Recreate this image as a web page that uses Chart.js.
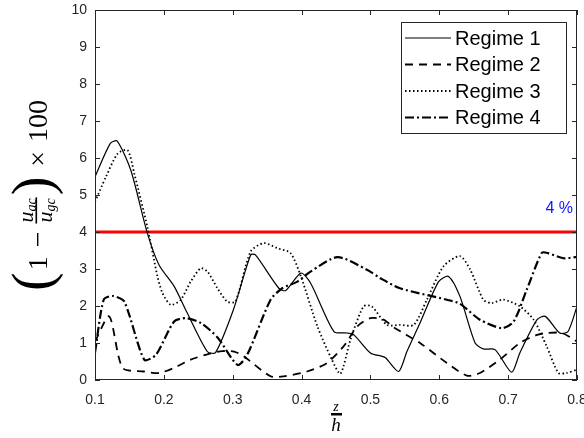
<!DOCTYPE html>
<html>
<head>
<meta charset="utf-8">
<script src="https://cdn.jsdelivr.net/npm/chart.js@4.4.1/dist/chart.umd.min.js"></script>
<style>
  body { margin: 0; background: #fff; }
  #wrap { width: 584px; height: 438px; }
</style>
</head>
<body>
<div id="wrap"><canvas id="chart" width="584" height="438"></canvas></div>
<script>
// values (x = z/h, y = percent)
const r1X = [0.1, 0.122, 0.132, 0.152, 0.176, 0.193, 0.215, 0.234, 0.263, 0.275, 0.301, 0.326, 0.333, 0.367, 0.377, 0.399, 0.413, 0.447, 0.466, 0.476, 0.5, 0.517, 0.522, 0.541, 0.553, 0.572, 0.599, 0.6135, 0.63, 0.652, 0.664, 0.681, 0.705, 0.717, 0.742, 0.754, 0.775, 0.787, 0.8];
const r1Y = [5.49, 6.39, 6.46, 5.67, 3.97, 3.11, 2.53, 1.81, 0.77, 0.74, 1.9, 3.38, 3.38, 2.48, 2.42, 2.89, 2.62, 1.31, 1.27, 1.22, 0.73, 0.64, 0.6, 0.23, 0.77, 1.54, 2.66, 2.8, 2.26, 1.0, 0.84, 0.82, 0.21, 0.73, 1.63, 1.72, 1.27, 1.31, 1.99];

const r2X = [0.1, 0.1207, 0.14, 0.171, 0.193, 0.215, 0.239, 0.268, 0.285, 0.302, 0.316, 0.355, 0.374, 0.408, 0.437, 0.461, 0.481, 0.5, 0.519, 0.534, 0.572, 0.611, 0.64, 0.659, 0.688, 0.717, 0.742, 0.756, 0.778, 0.8];
const r2Y = [1.04, 1.72, 0.33, 0.23, 0.19, 0.33, 0.55, 0.72, 0.78, 0.77, 0.64, 0.1, 0.1, 0.23, 0.46, 0.91, 1.45, 1.67, 1.63, 1.42, 1.0, 0.46, 0.12, 0.19, 0.55, 1.0, 1.22, 1.27, 1.27, 1.04];

const r3X = [0.1, 0.1159, 0.1329, 0.1474, 0.157, 0.176, 0.1907, 0.198, 0.2101, 0.2246, 0.239, 0.2536, 0.2633, 0.2778, 0.292, 0.304, 0.326, 0.345, 0.365, 0.384, 0.399, 0.423, 0.444, 0.4565, 0.471, 0.49, 0.502, 0.524, 0.543, 0.563, 0.582, 0.606, 0.63, 0.645, 0.664, 0.676, 0.693, 0.717, 0.737, 0.756, 0.773, 0.785, 0.8];
const r3Y = [4.82, 5.49, 6.12, 6.21, 5.58, 4.14, 2.8, 2.35, 2.03, 2.17, 2.66, 3.02, 2.93, 2.48, 2.12, 2.12, 3.47, 3.7, 3.56, 3.43, 2.8, 1.45, 0.55, 0.17, 1.09, 1.99, 1.99, 1.49, 1.49, 1.49, 2.17, 3.07, 3.35, 2.98, 2.17, 2.08, 2.17, 1.99, 1.63, 0.91, 0.19, 0.19, 0.28];

const r4X = [0.1, 0.1126, 0.1256, 0.1425, 0.1715, 0.1884, 0.2149, 0.2319, 0.2536, 0.278, 0.307, 0.321, 0.355, 0.372, 0.394, 0.413, 0.452, 0.495, 0.5145, 0.543, 0.611, 0.63, 0.659, 0.691, 0.708, 0.727, 0.749, 0.758, 0.78, 0.8];
const r4Y = [0.74, 2.17, 2.27, 2.12, 0.55, 0.68, 1.58, 1.67, 1.54, 1.15, 0.41, 0.68, 2.17, 2.48, 2.66, 2.93, 3.32, 2.98, 2.75, 2.48, 2.17, 2.06, 1.63, 1.4, 1.58, 2.44, 3.44, 3.43, 3.29, 3.33];

const seriesNames = ['Regime 1', 'Regime 2', 'Regime 3', 'Regime 4'];
const thresholdX = [0.1, 0.8];
const thresholdY = [4, 4];
const thresholdLabel = '4 %';
const xTicks = [0.1, 0.2, 0.3, 0.4, 0.5, 0.6, 0.7, 0.8];
const yTicks = [0, 1, 2, 3, 4, 5, 6, 7, 8, 9, 10];

function pts(xs, ys) {
    return xs.map((x, i) => ({ x: x, y: ys[i] }));
}

const lineStyles = [
    { dash: [], width: 1.2 },
    { dash: [8, 6], width: 1.8 },
    { dash: [1.5, 2.5], width: 1.8 },
    { dash: [9, 3, 2, 3], width: 2.2 }
];

const seriesData = [pts(r1X, r1Y), pts(r2X, r2Y), pts(r3X, r3Y), pts(r4X, r4Y)];

const datasets = seriesData.map((d, i) => ({
    label: seriesNames[i],
    data: d,
    borderColor: '#000',
    borderWidth: lineStyles[i].width,
    borderDash: lineStyles[i].dash,
    pointRadius: 0,
    tension: 0.25,
    fill: false
}));
datasets.push({
    label: 'threshold',
    data: pts(thresholdX, thresholdY),
    borderColor: '#ff0000',
    borderWidth: 3,
    pointRadius: 0,
    fill: false
});

const decorPlugin = {
    id: 'decor',
    afterDraw(chart) {
        const ctx = chart.ctx;
        const a = chart.chartArea;
        const xs = chart.scales.x, ys = chart.scales.y;

        // box + inward ticks
        ctx.save();
        ctx.strokeStyle = '#262626';
        ctx.lineWidth = 1;
        ctx.strokeRect(a.left + 0.5, a.top + 0.5, a.right - a.left - 1, a.bottom - a.top - 1);
        ctx.beginPath();
        xTicks.forEach(v => {
            const px = Math.round(xs.getPixelForValue(v)) + 0.5;
            ctx.moveTo(px, a.bottom); ctx.lineTo(px, a.bottom - 5);
            ctx.moveTo(px, a.top); ctx.lineTo(px, a.top + 5);
        });
        yTicks.forEach(v => {
            const py = Math.round(ys.getPixelForValue(v)) + 0.5;
            ctx.moveTo(a.left, py); ctx.lineTo(a.left + 5, py);
            ctx.moveTo(a.right, py); ctx.lineTo(a.right - 5, py);
        });
        ctx.stroke();
        ctx.restore();

        // threshold label
        ctx.save();
        ctx.fillStyle = '#1414ff';
        ctx.font = '16px "Liberation Sans", Arial, sans-serif';
        ctx.textAlign = 'right';
        ctx.textBaseline = 'middle';
        ctx.fillText(thresholdLabel, a.right - 4, ys.getPixelForValue(4) - 23);
        ctx.restore();

        // legend
        ctx.save();
        const lx = 401, ly = 22, lw = 165, lh = 111;
        ctx.fillStyle = '#fff';
        ctx.fillRect(lx, ly, lw, lh);
        ctx.strokeStyle = '#262626';
        ctx.lineWidth = 1;
        ctx.strokeRect(lx + 0.5, ly + 0.5, lw, lh);
        ctx.font = '20px "Liberation Sans", Arial, sans-serif';
        ctx.textBaseline = 'middle';
        ctx.fillStyle = '#000';
        seriesNames.forEach((name, i) => {
            const cy = ly + 16 + i * 26.5;
            ctx.beginPath();
            ctx.setLineDash(lineStyles[i].dash);
            ctx.lineWidth = lineStyles[i].width;
            ctx.strokeStyle = '#000';
            ctx.moveTo(lx + 4, cy);
            ctx.lineTo(lx + 50, cy);
            ctx.stroke();
            ctx.setLineDash([]);
            ctx.fillText(name, lx + 54, cy + 1);
        });
        ctx.restore();

        // y axis label: (1 - u_ac / u_gc) x 100, rotated
        ctx.save();
        ctx.translate(47, 291);
        ctx.rotate(-Math.PI / 2);
        ctx.fillStyle = '#000';
        ctx.textBaseline = 'alphabetic';
        const serif = '"Liberation Serif", "Times New Roman", serif';
        let cx = 0;
        ctx.font = '56px ' + serif;
        ctx.fillText('(', cx, 4);
        cx += ctx.measureText('(').width + 2;
        ctx.font = '28px ' + serif;
        ctx.fillText('1', cx, 0);
        cx += ctx.measureText('1').width + 9;
        ctx.fillText('\u2212', cx, 0);
        cx += ctx.measureText('\u2212').width + 8;
        // fraction
        ctx.font = 'italic 22px ' + serif;
        const uW = ctx.measureText('u').width;
        ctx.font = 'italic 14px ' + serif;
        const acW = ctx.measureText('ac').width;
        const gcW = ctx.measureText('gc').width;
        const fw = uW + Math.max(acW, gcW) + 2;
        ctx.font = 'italic 22px ' + serif;
        ctx.fillText('u', cx + 1, -14);
        ctx.fillText('u', cx + 1, 5);
        ctx.font = 'italic 14px ' + serif;
        ctx.fillText('ac', cx + 1 + uW, -11);
        ctx.fillText('gc', cx + 1 + uW, 8);
        ctx.fillRect(cx, -11.5, fw, 1.6);
        cx += fw + 2;
        ctx.font = '56px ' + serif;
        ctx.fillText(')', cx, 4);
        cx += ctx.measureText(')').width + 10;
        ctx.font = '28px ' + serif;
        ctx.fillText('\u00d7', cx, 0);
        cx += ctx.measureText('\u00d7').width + 9;
        ctx.fillText('100', cx, 0);
        ctx.restore();

        // x axis label: z / h
        ctx.save();
        ctx.fillStyle = '#000';
        ctx.textAlign = 'center';
        ctx.textBaseline = 'alphabetic';
        const mx = (a.left + a.right) / 2;
        ctx.font = 'italic 14px ' + serif;
        ctx.fillText('z', mx, 411);
        ctx.fillRect(mx - 5, 413, 11, 2.5);
        ctx.font = 'italic 19px ' + serif;
        ctx.fillText('h', mx, 431);
        ctx.restore();
    }
};

new Chart(document.getElementById('chart'), {
    type: 'line',
    data: { datasets: datasets },
    options: {
        responsive: false,
        animation: false,
        layout: { padding: { top: 10, right: 7, left: 0, bottom: 0 } },
        plugins: {
            legend: { display: false },
            tooltip: { enabled: false }
        },
        scales: {
            x: {
                type: 'linear',
                min: 0.1,
                max: 0.8,
                afterFit: s => { s.height = 58; s.paddingLeft = 0; s.paddingRight = 0; },
                afterBuildTicks: s => { s.ticks = xTicks.map(v => ({ value: v })); },
                grid: { display: false, drawTicks: false },
                border: { display: false },
                ticks: {
                    autoSkip: false,
                    maxRotation: 0,
                    padding: 12,
                    color: '#262626',
                    font: { family: '"Liberation Sans", Arial, sans-serif', size: 14 },
                    callback: v => Number(v).toFixed(1)
                }
            },
            y: {
                type: 'linear',
                min: 0,
                max: 10,
                afterFit: s => { s.width = 95; s.paddingTop = 0; s.paddingBottom = 0; },
                afterBuildTicks: s => { s.ticks = yTicks.map(v => ({ value: v })); },
                grid: { display: false, drawTicks: false },
                border: { display: false },
                ticks: {
                    padding: 8,
                    color: '#262626',
                    font: { family: '"Liberation Sans", Arial, sans-serif', size: 14 },
                    callback: v => String(v)
                }
            }
        }
    },
    plugins: [decorPlugin]
});
</script>
</body>
</html>
